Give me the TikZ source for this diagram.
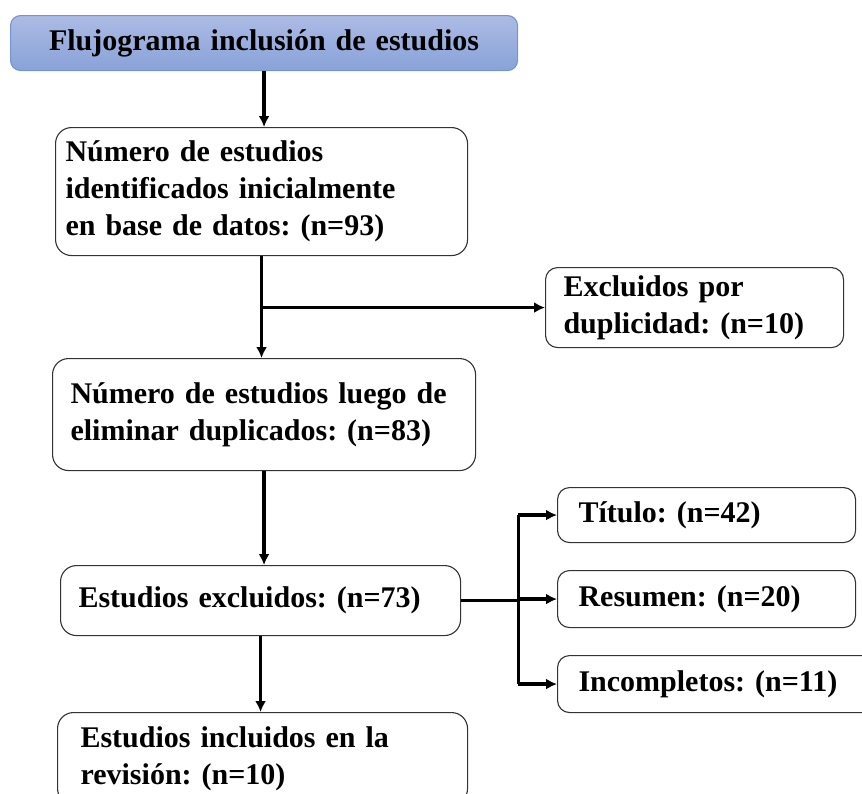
\documentclass[tikz,border=0pt]{standalone}
\usepackage{fontspec}
\setmainfont{Liberation Serif}
\usetikzlibrary{arrows.meta}
\frenchspacing

\definecolor{azulborde}{RGB}{120,148,206}
\definecolor{azularriba}{RGB}{172,187,228}
\definecolor{azulabajo}{RGB}{136,162,216}

\tikzset{
  caja/.style={draw=black!80, line width=1.1pt, rounded corners=16pt, fill=white,
    align=left, anchor=north west, inner xsep=18pt, inner ysep=0pt,
    font=\fontsize{30}{37}\selectfont\bfseries},
  cajatitulo/.style={caja, draw=azulborde, top color=azularriba, bottom color=azulabajo,
    align=center, rounded corners=10pt},
  flecha/.style={line width=3.2pt, -{Latex[length=11pt,width=11pt]}},
  linea/.style={line width=3.2pt},
}

\begin{document}
\begin{tikzpicture}[x=1pt,y=-1pt]
\useasboundingbox (0,0) rectangle (862,793);

% columna principal
\node[cajatitulo, text width=487pt, inner xsep=10pt, minimum height=55pt] (titulo) at (10,15)
  {Flujograma inclusión de estudios\hspace*{18pt}};
\node[caja, text width=392pt, inner xsep=10pt, minimum height=128pt] (identificados) at (55,127)
  {Número de estudios\\identificados inicialmente\\en base de datos: (n=93)};
\node[caja, text width=387pt, minimum height=112pt] (sinduplicados) at (52,358)
  {Número de estudios luego de\\eliminar duplicados: (n=83)};
\node[caja, text width=364pt, minimum height=70pt] (excluidos) at (60,565)
  {Estudios excluidos: (n=73)};
\node[caja, text width=364pt, inner xsep=23pt, minimum height=92pt] (incluidos) at (57,712)
  {Estudios incluidos en la\\revisión: (n=10)};

% cajas laterales
\node[caja, text width=262pt, minimum height=80pt, rounded corners=12pt] (duplicados) at (545,267)
  {Excluidos por\\duplicidad: (n=10)};
\node[caja, text width=256pt, inner xsep=21pt, minimum height=55pt, rounded corners=12pt] (motivotitulo) at (557,487)
  {Título: (n=42)};
\node[caja, text width=256pt, inner xsep=21pt, minimum height=57pt, rounded corners=12pt] (resumen) at (557,570)
  {Resumen: (n=20)};
\node[caja, text width=320pt, inner xsep=21pt, minimum height=57pt, rounded corners=12pt] (incompletos) at (557,655)
  {Incompletos: (n=11)};

% conectores
\draw[flecha] (titulo.south) -- (titulo.south |- identificados.north);
\draw[flecha] (identificados.south) -- (identificados.south |- sinduplicados.north);
\draw[flecha] (identificados.south |- duplicados.west) -- (duplicados.west);
\draw[flecha] (sinduplicados.south) -- (sinduplicados.south |- excluidos.north);
\draw[flecha] (excluidos.south) -- (excluidos.south |- incluidos.north);

\draw[linea] (excluidos.east) -- ++(57,0) coordinate (rama);
\draw[linea] (rama |- motivotitulo.west) -- (rama |- incompletos.west);
\draw[flecha] (rama |- motivotitulo.west) -- (motivotitulo.west);
\draw[flecha] (rama |- resumen.west) -- (resumen.west);
\draw[flecha] (rama |- incompletos.west) -- (incompletos.west);
\end{tikzpicture}
\end{document}
